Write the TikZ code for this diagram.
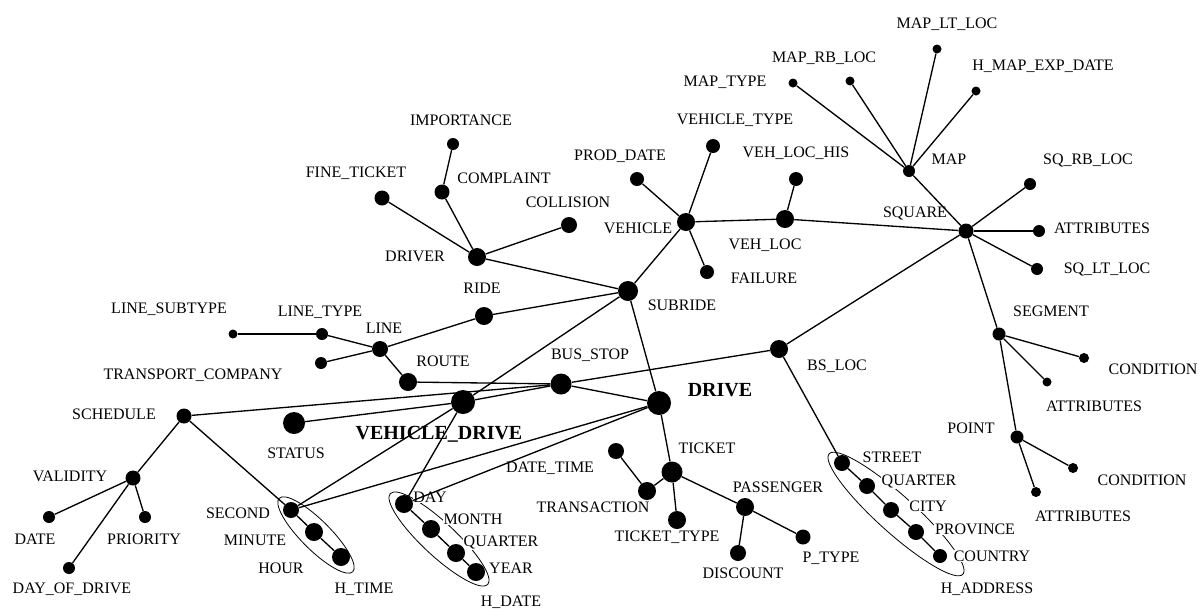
\documentclass[tikz,border=0pt]{standalone}
\usepackage{fontspec}
\setmainfont{Liberation Serif}
\newcommand\lblf{\fontsize{12}{14}\selectfont}
\newcommand\blblf{\fontsize{15}{18}\selectfont\bfseries}
\begin{document}
\begin{tikzpicture}[x=0.75pt,y=-0.75pt,
  bul/.style={circle,fill=black,draw=none,inner sep=0pt,minimum size=#1*1.5pt},
  lab/.style={font=\lblf,fill=white,inner sep=0.6pt,anchor=base,yshift=-4pt},
  blab/.style={font=\blblf,inner sep=0pt,anchor=base,yshift=-5pt},
  conn/.style={line width=1pt},
  hell/.style={line width=0.6pt}]
\useasboundingbox[fill=white] (0,0) rectangle (1201,612);

% hierarchies (ellipses)
\begin{scope}[shift={(896,514)},rotate=-42]
  \draw[hell] (0,0) ellipse [x radius=67.5pt, y radius=14pt];
\end{scope}
\begin{scope}[shift={(439,539)},rotate=-43]
  \draw[hell] (0,0) ellipse [x radius=50pt, y radius=12.5pt];
\end{scope}
\begin{scope}[shift={(316,535)},rotate=-45]
  \draw[hell] (0,0) ellipse [x radius=39pt, y radius=11pt];
\end{scope}

% labels
\node[lab] (lmaplt) at (947,23) {MAP\_LT\_LOC};
\node[lab] (lmaprb) at (824,57) {MAP\_RB\_LOC};
\node[lab] (lmaptype) at (725,81) {MAP\_TYPE};
\node[lab] (lhmap) at (1043,65) {H\_MAP\_EXP\_DATE};
\node[lab] (lmap) at (949,159) {MAP};
\node[lab] (lsqrb) at (1088,159) {SQ\_RB\_LOC};
\node[lab] (lsquare) at (915,212) {SQUARE};
\node[lab] (lsqattr) at (1102,228) {ATTRIBUTES};
\node[lab] (lsqlt) at (1107,268) {SQ\_LT\_LOC};
\node[lab] (lsegment) at (1051,311) {SEGMENT};
\node[lab] (lsegcond) at (1153,369) {CONDITION};
\node[lab] (lsegattr) at (1094,406) {ATTRIBUTES};
\node[lab] (lpoint) at (971,428) {POINT};
\node[lab] (lptcond) at (1142,480) {CONDITION};
\node[lab] (lptattr) at (1083,516) {ATTRIBUTES};
\node[lab] (lbsloc) at (837,365) {BS\_LOC};
\node[lab] (lstreet) at (892,457) {STREET};
\node[lab] (lquarterb) at (919,480) {QUARTER};
\node[lab] (lcity) at (928,506) {CITY};
\node[lab] (lprovince) at (975,529) {PROVINCE};
\node[lab] (lcountry) at (992,556) {COUNTRY};
\node[lab] (lhaddress) at (987,588) {H\_ADDRESS};
\node[lab] (lptype) at (831,557) {P\_TYPE};
\node[lab] (ldiscount) at (743,573) {DISCOUNT};
\node[lab] (lpassenger) at (778,487) {PASSENGER};
\node[lab] (lticket) at (707,448) {TICKET};
\node[lab] (ltickettype) at (667,536) {TICKET\_TYPE};
\node[lab] (ltransaction) at (593,507) {TRANSACTION};
\node[lab] (ldatetime) at (550,467) {DATE\_TIME};
\node[blab] (ldrive) at (720,390) {DRIVE};
\node[blab] (lvd) at (439,433) {VEHICLE\_DRIVE};
\node[lab] (lday) at (430,497) {DAY};
\node[lab] (lmonth) at (473,519) {MONTH};
\node[lab] (lquarter) at (501,541) {QUARTER};
\node[lab] (lyear) at (511,568) {YEAR};
\node[lab] (lhdate) at (511,601) {H\_DATE};
\node[lab] (lsecond) at (238,513) {SECOND};
\node[lab] (lminute) at (255,540) {MINUTE};
\node[lab] (lhour) at (281,568) {HOUR};
\node[lab] (lhtime) at (364,588) {H\_TIME};
\node[lab] (lschedule) at (114,414) {SCHEDULE};
\node[lab] (lvalidity) at (70,476) {VALIDITY};
\node[lab] (ldate) at (35,539) {DATE};
\node[lab] (lpriority) at (144,539) {PRIORITY};
\node[lab] (ldod) at (72,588) {DAY\_OF\_DRIVE};
\node[lab] (lstatus) at (296,453) {STATUS};
\node[lab] (llinesub) at (169,308) {LINE\_SUBTYPE};
\node[lab] (llinetype) at (320,311) {LINE\_TYPE};
\node[lab] (lline) at (384,328) {LINE};
\node[lab] (ltc) at (193,374) {TRANSPORT\_COMPANY};
\node[lab] (lroute) at (443,361) {ROUTE};
\node[lab] (lbusstop) at (590,354) {BUS\_STOP};
\node[lab] (lride) at (482,288) {RIDE};
\node[lab] (ldriver) at (415,256) {DRIVER};
\node[lab] (lfinet) at (356,172) {FINE\_TICKET};
\node[lab] (limportance) at (461,120) {IMPORTANCE};
\node[lab] (lcomplaint) at (504,178) {COMPLAINT};
\node[lab] (lcollision) at (568,202) {COLLISION};
\node[lab] (lsubride) at (682,305) {SUBRIDE};
\node[lab] (lvehicle) at (638,228) {VEHICLE};
\node[lab] (lproddate) at (620,155) {PROD\_DATE};
\node[lab] (lvehtype) at (735,119) {VEHICLE\_TYPE};
\node[lab] (lvehlochis) at (796,152) {VEH\_LOC\_HIS};
\node[lab] (lvehloc) at (765,244) {VEH\_LOC};
\node[lab] (lfailure) at (764,278) {FAILURE};

% dots
\node[bul=4.5] (maplt) at (937,49) {};
\node[bul=4.5] (maprb) at (850,81) {};
\node[bul=4.5] (maptype) at (793,83) {};
\node[bul=4.5] (hmap) at (976,91) {};
\node[bul=6] (map) at (909,171) {};
\node[bul=6] (sqrb) at (1030,184) {};
\node[bul=7.5] (square) at (966,231) {};
\node[bul=6] (sqattr) at (1039,231) {};
\node[bul=6] (sqlt) at (1037,269) {};
\node[bul=6.5] (segment) at (999,334) {};
\node[bul=5] (segcond) at (1084,358) {};
\node[bul=4.5] (segattr) at (1047,382) {};
\node[bul=6.5] (point) at (1017,437) {};
\node[bul=5] (ptcond) at (1073,468) {};
\node[bul=5] (ptattr) at (1036,492) {};
\node[bul=9] (bsloc) at (779,349) {};
\node[bul=8] (street) at (842,463) {};
\node[bul=8] (quarterb) at (867,486) {};
\node[bul=8] (city) at (891,510) {};
\node[bul=8] (province) at (916,532) {};
\node[bul=7] (country) at (940,556) {};
\node[bul=7.5] (ptype) at (803,537) {};
\node[bul=9] (passenger) at (745,507) {};
\node[bul=8] (discount) at (738,553) {};
\node[bul=10.5] (ticket) at (672,472) {};
\node[bul=9] (tickettype) at (677,520) {};
\node[bul=9] (transaction) at (647,491) {};
\node[bul=8] (datetime) at (616,451) {};
\node[bul=12] (drive) at (659,403) {};
\node[bul=10] (subride) at (628,291) {};
\node[bul=9] (vehicle) at (686,222) {};
\node[bul=7] (vehtype) at (713,146) {};
\node[bul=7] (proddate) at (637,179) {};
\node[bul=7] (failure) at (707,272) {};
\node[bul=9] (vehloc) at (785,219) {};
\node[bul=7] (vehlochis) at (796,179) {};
\node[bul=9] (driver) at (477,257) {};
\node[bul=7.5] (finet) at (382,198) {};
\node[bul=7.5] (complaint) at (442,192) {};
\node[bul=6] (importance) at (453,144) {};
\node[bul=8] (collision) at (569,225) {};
\node[bul=9] (ride) at (484,316) {};
\node[bul=8] (line) at (380,349) {};
\node[bul=6] (linetype) at (322,334) {};
\node[bul=4.5] (linesub) at (233,334) {};
\node[bul=6] (tc) at (321,363) {};
\node[bul=9] (route) at (408,382) {};
\node[bul=10.5] (busstop) at (561,384) {};
\node[bul=12] (vd) at (463,402) {};
\node[bul=11] (status) at (294,423) {};
\node[bul=7.5] (schedule) at (184,416) {};
\node[bul=7.5] (validity) at (133,478) {};
\node[bul=6] (date) at (49,517) {};
\node[bul=6] (priority) at (145,517) {};
\node[bul=6] (dod) at (69,568) {};
\node[bul=8] (second) at (291,510) {};
\node[bul=9] (minute) at (314,532) {};
\node[bul=9] (hour) at (341,557) {};
\node[bul=9] (day) at (404,504) {};
\node[bul=9] (month) at (431,529) {};
\node[bul=9] (quarter) at (456,553) {};
\node[bul=9] (year) at (476,572) {};

% connectors
\draw[conn] (map) -- (maplt);
\draw[conn] (map) -- (maprb);
\draw[conn] (map) -- (maptype);
\draw[conn] (map) -- (hmap);
\draw[conn] (map) -- (square);
\draw[conn] (square) -- (sqrb);
\draw[conn] (square) -- (sqattr);
\draw[conn] (square) -- (sqlt);
\draw[conn] (square) -- (segment);
\draw[conn] (square) -- (bsloc);
\draw[conn] (square) -- (vehloc);
\draw[conn] (segment) -- (segcond);
\draw[conn] (segment) -- (segattr);
\draw[conn] (segment) -- (point);
\draw[conn] (point) -- (ptcond);
\draw[conn] (point) -- (ptattr);
\draw[conn] (vehloc) -- (vehlochis);
\draw[conn] (vehloc) -- (vehicle);
\draw[conn] (vehicle) -- (proddate);
\draw[conn] (vehicle) -- (vehtype);
\draw[conn] (vehicle) -- (failure);
\draw[conn] (vehicle) -- (subride);
\draw[conn] (subride) -- (driver);
\draw[conn] (subride) -- (ride);
\draw[conn] (subride) -- (vd);
\draw[conn] (subride) -- (drive);
\draw[conn] (driver) -- (finet);
\draw[conn] (driver) -- (complaint);
\draw[conn] (driver) -- (collision);
\draw[conn] (complaint) -- (importance);
\draw[conn] (ride) -- (line);
\draw[conn] (line) -- (linetype);
\draw[conn] (linetype) -- (linesub);
\draw[conn] (line) -- (tc);
\draw[conn] (line) -- (route);
\draw[conn] (route) -- (busstop);
\draw[conn] (busstop) -- (bsloc);
\draw[conn] (busstop) -- (drive);
\draw[conn] (busstop) -- (vd);
\draw[conn] (busstop) -- (schedule);
\draw[conn] (vd) -- (status);
\draw[conn] (vd) -- (second);
\draw[conn] (vd) -- (day);
\draw[conn] (drive) -- (second);
\draw[conn] (drive) -- (day);
\draw[conn] (drive) -- (ticket);
\draw[conn] (schedule) -- (validity);
\draw[conn] (schedule) -- (second);
\draw[conn] (validity) -- (date);
\draw[conn] (validity) -- (priority);
\draw[conn] (validity) -- (dod);
\draw[conn] (second) -- (minute);
\draw[conn] (minute) -- (hour);
\draw[conn] (day) -- (month);
\draw[conn] (month) -- (quarter);
\draw[conn] (quarter) -- (year);
\draw[conn] (bsloc) -- (street);
\draw[conn] (street) -- (quarterb);
\draw[conn] (quarterb) -- (city);
\draw[conn] (city) -- (province);
\draw[conn] (province) -- (country);
\draw[conn] (ticket) -- (transaction);
\draw[conn] (transaction) -- (datetime);
\draw[conn] (ticket) -- (tickettype);
\draw[conn] (ticket) -- (passenger);
\draw[conn] (passenger) -- (discount);
\draw[conn] (passenger) -- (ptype);
\end{tikzpicture}
\end{document}
